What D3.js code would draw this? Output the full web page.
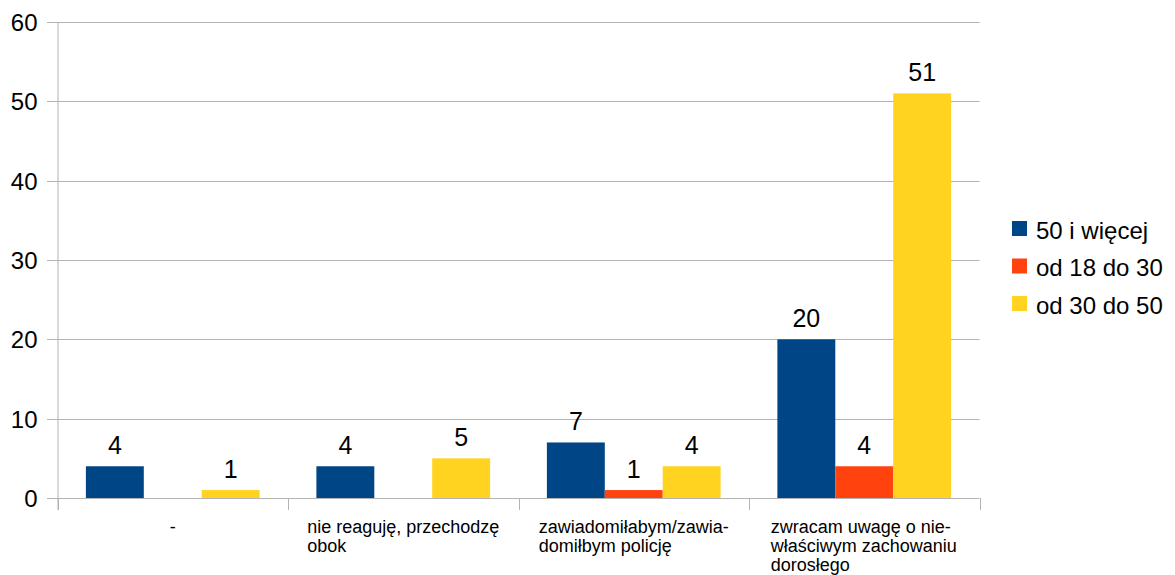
<!DOCTYPE html>
<html><head><meta charset="utf-8">
<script src="https://cdn.jsdelivr.net/npm/d3@7"></script>
<style>body{margin:0;background:#fff}svg{display:block;font-family:"Liberation Sans",Arial,sans-serif}</style>
</head><body><svg id="c" width="1175" height="575"></svg>
<script>
const categories = ["-", "nie reaguję, przechodzę obok", "zawiadomiłabym/zawiadomiłbym policję", "zwracam uwagę o niewłaściwym zachowaniu dorosłego"];
const categoryLines = [["-"], ["nie reaguję,  przechodzę", "obok"], ["zawiadomiłabym/zawia-", "domiłbym policję"], ["zwracam uwagę o nie-", "właściwym zachowaniu", "dorosłego"]];
const seriesNames = ["50 i więcej", "od 18 do 30", "od 30 do 50"];
const s50plus = [4, 4, 7, 20];
const s18to30 = [null, null, 1, 4];
const s30to50 = [1, 5, 4, 51];
const yTicks = [0, 10, 20, 30, 40, 50, 60];
const colors = ["#004586", "#ff420e", "#ffd320"];

const series = [s50plus, s18to30, s30to50];
const svg = d3.select("#c");
const L = 57.5, R = 979.5, T = 22, B = 498;
const x = d3.scaleBand().domain(categories).range([L, R]);
const xi = d3.scaleBand().domain(seriesNames).range([0, x.bandwidth()]).paddingInner(0).paddingOuter(0.49);
const y = d3.scaleLinear().domain([0, 60]).range([B, T]);

// gridlines
svg.append("g").selectAll("line").data(yTicks).join("line")
  .attr("x1", 47).attr("x2", R).attr("y1", d => Math.round(y(d)) + 0.5).attr("y2", d => Math.round(y(d)) + 0.5)
  .attr("stroke", "#b3b3b3").attr("stroke-width", 1);
// y axis line
svg.append("line").attr("x1", L + 0.5).attr("x2", L + 0.5).attr("y1", T).attr("y2", 510).attr("stroke", "#b3b3b3");
// category ticks
const bounds = categories.map(c => x(c)).concat([R]);
svg.append("g").selectAll("line").data(bounds).join("line")
  .attr("x1", d => Math.round(d) + 0.5).attr("x2", d => Math.round(d) + 0.5).attr("y1", B).attr("y2", 510)
  .attr("stroke", "#b3b3b3");
// y labels
svg.append("g").selectAll("text").data(yTicks).join("text")
  .attr("x", 37.5).attr("y", d => y(d) + 9).attr("text-anchor", "end")
  .attr("font-size", 24).attr("fill", "#000").text(d => d);

// bars
seriesNames.forEach((name, si) => {
  const g = svg.append("g");
  const data = categories.map((c, i) => ({c, v: series[si][i]})).filter(d => d.v != null);
  g.selectAll("rect").data(data).join("rect")
    .attr("x", d => x(d.c) + xi(name)).attr("width", xi.bandwidth())
    .attr("y", d => y(d.v)).attr("height", d => y(0) - y(d.v)).attr("fill", colors[si]);
  g.selectAll("text").data(data).join("text")
    .attr("x", d => x(d.c) + xi(name) + xi.bandwidth() / 2).attr("y", d => y(d.v) - 12)
    .attr("text-anchor", "middle").attr("font-size", 25).attr("fill", "#000").text(d => d.v);
});

// category labels
categories.forEach((c, i) => {
  const lines = categoryLines[i];
  const t = svg.append("text").attr("font-size", 18).attr("fill", "#000");
  lines.forEach((ln, k) => t.append("tspan").attr("x", 0).attr("y", 533 + k * 19).text(ln));
  const w = t.node().getBBox().width;
  const cx = x(c) + x.bandwidth() / 2;
  t.selectAll("tspan").attr("x", cx - w / 2);
});

// legend
seriesNames.forEach((n, i) => {
  const cy = 228.5 + i * 37.5;
  svg.append("rect").attr("x", 1012).attr("y", cy - 7.5).attr("width", 15).attr("height", 15).attr("fill", colors[i]);
  svg.append("text").attr("x", 1036).attr("y", cy + 10).attr("font-size", 24).attr("fill", "#000").text(n);
});
</script></body></html>
